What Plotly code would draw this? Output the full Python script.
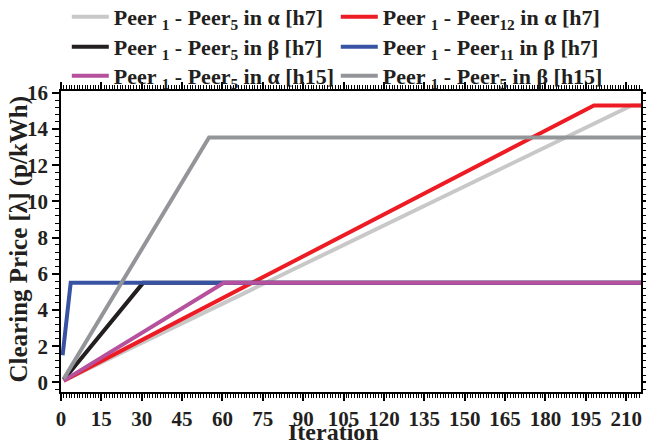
import plotly.graph_objects as go

# Data
names = [
    "Peer <sub>1</sub> - Peer<sub>5</sub> in α [h7]",
    "Peer <sub>1</sub> - Peer<sub>12</sub> in α [h7]",
    "Peer <sub>1</sub> - Peer<sub>5</sub> in β [h7]",
    "Peer <sub>1</sub> - Peer<sub>11</sub> in β [h7]",
    "Peer <sub>1</sub> - Peer<sub>5</sub> in α [h15]",
    "Peer <sub>1</sub> - Peer<sub>5</sub> in β [h15]",
]
x_a5_h7 = [1, 212, 215.5]
y_a5_h7 = [0.1, 15.3, 15.3]
x_a12_h7 = [1, 198, 215.5]
y_a12_h7 = [0.1, 15.3, 15.3]
x_b5_h7 = [1, 30.5, 215.5]
y_b5_h7 = [0.15, 5.5, 5.5]
x_b11_h7 = [0.6, 3.6, 215.5]
y_b11_h7 = [1.5, 5.5, 5.5]
x_a5_h15 = [1, 60.5, 215.5]
y_a5_h15 = [0.1, 5.5, 5.5]
x_b5_h15 = [1, 55, 215.5]
y_b5_h15 = [0.2, 13.53, 13.53]

xs = [x_a5_h7, x_a12_h7, x_b5_h7, x_b11_h7, x_a5_h15, x_b5_h15]
ys = [y_a5_h7, y_a12_h7, y_b5_h7, y_b11_h7, y_a5_h15, y_b5_h15]
colors = ["#c8c8c8", "#ed1c24", "#231f20", "#3953a4", "#b5519d", "#939598"]
legend_rows = ["legend", "legend", "legend2", "legend2", "legend3", "legend3"]

x_ticks = list(range(0, 211, 15))
y_ticks = list(range(0, 17, 2))

FONT = "Liberation Serif"
TXT = "#231f20"

fig = go.Figure()
for n, x, y, c, lg in zip(names, xs, ys, colors, legend_rows):
    fig.add_trace(go.Scatter(x=x, y=y, mode="lines", name=n, legend=lg,
                             line=dict(color=c, width=4)))

axis_common = dict(
    showline=True, linecolor="black", linewidth=1.5, mirror="ticks",
    ticks="outside", ticklen=7, tickwidth=1.5, tickcolor="black",
    showgrid=False, zeroline=False, automargin=False,
    tickfont=dict(family=FONT, size=21, color=TXT, weight="bold"),
)

fig.update_xaxes(
    range=[0, 215.5], tickvals=x_ticks,
    minor=dict(dtick=1, tick0=0, ticks="outside", ticklen=4, tickwidth=1, tickcolor="black"),
    **axis_common,
)
fig.update_yaxes(
    range=[-0.53, 16.1], tickvals=y_ticks,
    minor=dict(dtick=0.4, tick0=0, ticks="outside", ticklen=4, tickwidth=1, tickcolor="black"),
    **axis_common,
)

fig.add_annotation(
    text="Clearing Price [λ] (p/kWh)", xref="paper", yref="paper",
    x=0, y=0.5, xanchor="center", yanchor="middle", xshift=-43, yshift=2,
    textangle=-90, showarrow=False,
    font=dict(family=FONT, size=25, color=TXT, weight="bold"),
)
fig.add_annotation(
    text="Iteration", xref="paper", yref="paper",
    x=0.47, y=0, xanchor="center", yanchor="bottom", yshift=-55,
    showarrow=False,
    font=dict(family=FONT, size=24, color=TXT, weight="bold"),
)

leg_common = dict(
    orientation="h", x=0.01, xanchor="left", yanchor="middle",
    entrywidth=217, entrywidthmode="pixels",
    font=dict(family=FONT, size=22, color=TXT, weight="bold"),
    bgcolor="rgba(0,0,0,0)", itemwidth=37,
)

fig.update_layout(
    width=646, height=446,
    margin=dict(l=61, r=5, t=91, b=54, autoexpand=False),
    paper_bgcolor="white", plot_bgcolor="white",
    showlegend=True,
    legend=dict(y=1.2458, **leg_common),
    legend2=dict(y=1.1462, **leg_common),
    legend3=dict(y=1.0498, **leg_common),
)

fig.write_html("out.html")
